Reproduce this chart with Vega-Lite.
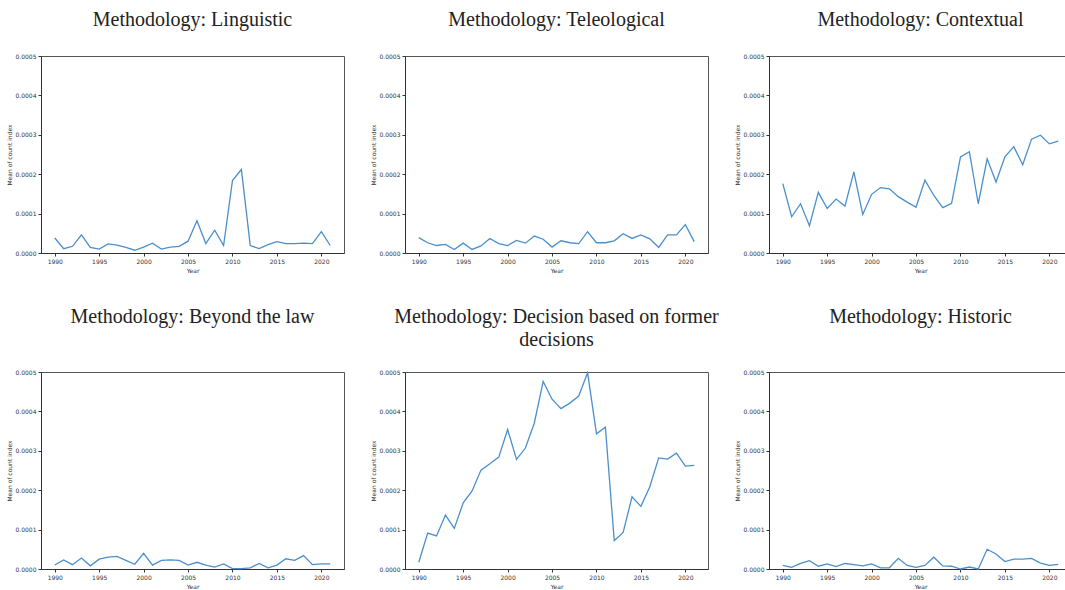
{
  "$schema": "https://vega.github.io/schema/vega-lite/v6.json",
  "background": "white",
  "padding": {"left": 5, "top": 9, "right": 0, "bottom": 0},
  "data": {"values": [
    {"method": "Linguistic", "year": 1990, "value": 0.000038},
    {"method": "Linguistic", "year": 1991, "value": 0.000011},
    {"method": "Linguistic", "year": 1992, "value": 0.000017},
    {"method": "Linguistic", "year": 1993, "value": 0.000046},
    {"method": "Linguistic", "year": 1994, "value": 0.000014},
    {"method": "Linguistic", "year": 1995, "value": 0.000010},
    {"method": "Linguistic", "year": 1996, "value": 0.000023},
    {"method": "Linguistic", "year": 1997, "value": 0.000020},
    {"method": "Linguistic", "year": 1998, "value": 0.000014},
    {"method": "Linguistic", "year": 1999, "value": 0.000007},
    {"method": "Linguistic", "year": 2000, "value": 0.000015},
    {"method": "Linguistic", "year": 2001, "value": 0.000025},
    {"method": "Linguistic", "year": 2002, "value": 0.000010},
    {"method": "Linguistic", "year": 2003, "value": 0.000015},
    {"method": "Linguistic", "year": 2004, "value": 0.000017},
    {"method": "Linguistic", "year": 2005, "value": 0.000030},
    {"method": "Linguistic", "year": 2006, "value": 0.000082},
    {"method": "Linguistic", "year": 2007, "value": 0.000024},
    {"method": "Linguistic", "year": 2008, "value": 0.000058},
    {"method": "Linguistic", "year": 2009, "value": 0.000019},
    {"method": "Linguistic", "year": 2010, "value": 0.000184},
    {"method": "Linguistic", "year": 2011, "value": 0.000212},
    {"method": "Linguistic", "year": 2012, "value": 0.000019},
    {"method": "Linguistic", "year": 2013, "value": 0.000011},
    {"method": "Linguistic", "year": 2014, "value": 0.000021},
    {"method": "Linguistic", "year": 2015, "value": 0.000029},
    {"method": "Linguistic", "year": 2016, "value": 0.000024},
    {"method": "Linguistic", "year": 2017, "value": 0.000024},
    {"method": "Linguistic", "year": 2018, "value": 0.000025},
    {"method": "Linguistic", "year": 2019, "value": 0.000024},
    {"method": "Linguistic", "year": 2020, "value": 0.000054},
    {"method": "Linguistic", "year": 2021, "value": 0.000019},
    {"method": "Teleological", "year": 1990, "value": 0.000039},
    {"method": "Teleological", "year": 1991, "value": 0.000026},
    {"method": "Teleological", "year": 1992, "value": 0.000019},
    {"method": "Teleological", "year": 1993, "value": 0.000022},
    {"method": "Teleological", "year": 1994, "value": 0.000009},
    {"method": "Teleological", "year": 1995, "value": 0.000025},
    {"method": "Teleological", "year": 1996, "value": 0.000009},
    {"method": "Teleological", "year": 1997, "value": 0.000018},
    {"method": "Teleological", "year": 1998, "value": 0.000037},
    {"method": "Teleological", "year": 1999, "value": 0.000024},
    {"method": "Teleological", "year": 2000, "value": 0.000019},
    {"method": "Teleological", "year": 2001, "value": 0.000032},
    {"method": "Teleological", "year": 2002, "value": 0.000025},
    {"method": "Teleological", "year": 2003, "value": 0.000043},
    {"method": "Teleological", "year": 2004, "value": 0.000035},
    {"method": "Teleological", "year": 2005, "value": 0.000015},
    {"method": "Teleological", "year": 2006, "value": 0.000031},
    {"method": "Teleological", "year": 2007, "value": 0.000026},
    {"method": "Teleological", "year": 2008, "value": 0.000024},
    {"method": "Teleological", "year": 2009, "value": 0.000054},
    {"method": "Teleological", "year": 2010, "value": 0.000026},
    {"method": "Teleological", "year": 2011, "value": 0.000026},
    {"method": "Teleological", "year": 2012, "value": 0.000031},
    {"method": "Teleological", "year": 2013, "value": 0.000049},
    {"method": "Teleological", "year": 2014, "value": 0.000037},
    {"method": "Teleological", "year": 2015, "value": 0.000046},
    {"method": "Teleological", "year": 2016, "value": 0.000036},
    {"method": "Teleological", "year": 2017, "value": 0.000014},
    {"method": "Teleological", "year": 2018, "value": 0.000046},
    {"method": "Teleological", "year": 2019, "value": 0.000046},
    {"method": "Teleological", "year": 2020, "value": 0.000072},
    {"method": "Teleological", "year": 2021, "value": 0.000029},
    {"method": "Contextual", "year": 1990, "value": 0.000176},
    {"method": "Contextual", "year": 1991, "value": 0.000092},
    {"method": "Contextual", "year": 1992, "value": 0.000125},
    {"method": "Contextual", "year": 1993, "value": 0.000069},
    {"method": "Contextual", "year": 1994, "value": 0.000154},
    {"method": "Contextual", "year": 1995, "value": 0.000113},
    {"method": "Contextual", "year": 1996, "value": 0.000137},
    {"method": "Contextual", "year": 1997, "value": 0.000119},
    {"method": "Contextual", "year": 1998, "value": 0.000206},
    {"method": "Contextual", "year": 1999, "value": 0.000098},
    {"method": "Contextual", "year": 2000, "value": 0.000149},
    {"method": "Contextual", "year": 2001, "value": 0.000166},
    {"method": "Contextual", "year": 2002, "value": 0.000163},
    {"method": "Contextual", "year": 2003, "value": 0.000143},
    {"method": "Contextual", "year": 2004, "value": 0.000129},
    {"method": "Contextual", "year": 2005, "value": 0.000116},
    {"method": "Contextual", "year": 2006, "value": 0.000185},
    {"method": "Contextual", "year": 2007, "value": 0.000146},
    {"method": "Contextual", "year": 2008, "value": 0.000115},
    {"method": "Contextual", "year": 2009, "value": 0.000126},
    {"method": "Contextual", "year": 2010, "value": 0.000244},
    {"method": "Contextual", "year": 2011, "value": 0.000257},
    {"method": "Contextual", "year": 2012, "value": 0.000125},
    {"method": "Contextual", "year": 2013, "value": 0.000239},
    {"method": "Contextual", "year": 2014, "value": 0.000180},
    {"method": "Contextual", "year": 2015, "value": 0.000244},
    {"method": "Contextual", "year": 2016, "value": 0.000270},
    {"method": "Contextual", "year": 2017, "value": 0.000224},
    {"method": "Contextual", "year": 2018, "value": 0.000289},
    {"method": "Contextual", "year": 2019, "value": 0.000299},
    {"method": "Contextual", "year": 2020, "value": 0.000277},
    {"method": "Contextual", "year": 2021, "value": 0.000284},
    {"method": "Beyond", "year": 1990, "value": 0.000010},
    {"method": "Beyond", "year": 1991, "value": 0.000023},
    {"method": "Beyond", "year": 1992, "value": 0.000011},
    {"method": "Beyond", "year": 1993, "value": 0.000028},
    {"method": "Beyond", "year": 1994, "value": 0.000008},
    {"method": "Beyond", "year": 1995, "value": 0.000025},
    {"method": "Beyond", "year": 1996, "value": 0.000030},
    {"method": "Beyond", "year": 1997, "value": 0.000032},
    {"method": "Beyond", "year": 1998, "value": 0.000022},
    {"method": "Beyond", "year": 1999, "value": 0.000012},
    {"method": "Beyond", "year": 2000, "value": 0.000040},
    {"method": "Beyond", "year": 2001, "value": 0.000010},
    {"method": "Beyond", "year": 2002, "value": 0.000022},
    {"method": "Beyond", "year": 2003, "value": 0.000023},
    {"method": "Beyond", "year": 2004, "value": 0.000022},
    {"method": "Beyond", "year": 2005, "value": 0.000010},
    {"method": "Beyond", "year": 2006, "value": 0.000017},
    {"method": "Beyond", "year": 2007, "value": 0.000010},
    {"method": "Beyond", "year": 2008, "value": 0.000005},
    {"method": "Beyond", "year": 2009, "value": 0.000013},
    {"method": "Beyond", "year": 2010, "value": 0.000001},
    {"method": "Beyond", "year": 2011, "value": 0.000001},
    {"method": "Beyond", "year": 2012, "value": 0.000003},
    {"method": "Beyond", "year": 2013, "value": 0.000014},
    {"method": "Beyond", "year": 2014, "value": 0.000003},
    {"method": "Beyond", "year": 2015, "value": 0.000010},
    {"method": "Beyond", "year": 2016, "value": 0.000026},
    {"method": "Beyond", "year": 2017, "value": 0.000022},
    {"method": "Beyond", "year": 2018, "value": 0.000034},
    {"method": "Beyond", "year": 2019, "value": 0.000011},
    {"method": "Beyond", "year": 2020, "value": 0.000013},
    {"method": "Beyond", "year": 2021, "value": 0.000013},
    {"method": "Decision", "year": 1990, "value": 0.000017},
    {"method": "Decision", "year": 1991, "value": 0.000091},
    {"method": "Decision", "year": 1992, "value": 0.000084},
    {"method": "Decision", "year": 1993, "value": 0.000137},
    {"method": "Decision", "year": 1994, "value": 0.000103},
    {"method": "Decision", "year": 1995, "value": 0.000168},
    {"method": "Decision", "year": 1996, "value": 0.000198},
    {"method": "Decision", "year": 1997, "value": 0.000251},
    {"method": "Decision", "year": 1998, "value": 0.000267},
    {"method": "Decision", "year": 1999, "value": 0.000284},
    {"method": "Decision", "year": 2000, "value": 0.000354},
    {"method": "Decision", "year": 2001, "value": 0.000278},
    {"method": "Decision", "year": 2002, "value": 0.000307},
    {"method": "Decision", "year": 2003, "value": 0.000370},
    {"method": "Decision", "year": 2004, "value": 0.000476},
    {"method": "Decision", "year": 2005, "value": 0.000431},
    {"method": "Decision", "year": 2006, "value": 0.000407},
    {"method": "Decision", "year": 2007, "value": 0.000421},
    {"method": "Decision", "year": 2008, "value": 0.000439},
    {"method": "Decision", "year": 2009, "value": 0.000498},
    {"method": "Decision", "year": 2010, "value": 0.000343},
    {"method": "Decision", "year": 2011, "value": 0.000360},
    {"method": "Decision", "year": 2012, "value": 0.000072},
    {"method": "Decision", "year": 2013, "value": 0.000093},
    {"method": "Decision", "year": 2014, "value": 0.000183},
    {"method": "Decision", "year": 2015, "value": 0.000159},
    {"method": "Decision", "year": 2016, "value": 0.000209},
    {"method": "Decision", "year": 2017, "value": 0.000282},
    {"method": "Decision", "year": 2018, "value": 0.000279},
    {"method": "Decision", "year": 2019, "value": 0.000294},
    {"method": "Decision", "year": 2020, "value": 0.000261},
    {"method": "Decision", "year": 2021, "value": 0.000263},
    {"method": "Historic", "year": 1990, "value": 0.000009},
    {"method": "Historic", "year": 1991, "value": 0.000004},
    {"method": "Historic", "year": 1992, "value": 0.000014},
    {"method": "Historic", "year": 1993, "value": 0.000021},
    {"method": "Historic", "year": 1994, "value": 0.000007},
    {"method": "Historic", "year": 1995, "value": 0.000013},
    {"method": "Historic", "year": 1996, "value": 0.000006},
    {"method": "Historic", "year": 1997, "value": 0.000014},
    {"method": "Historic", "year": 1998, "value": 0.000011},
    {"method": "Historic", "year": 1999, "value": 0.000008},
    {"method": "Historic", "year": 2000, "value": 0.000013},
    {"method": "Historic", "year": 2001, "value": 0.000003},
    {"method": "Historic", "year": 2002, "value": 0.000003},
    {"method": "Historic", "year": 2003, "value": 0.000027},
    {"method": "Historic", "year": 2004, "value": 0.000009},
    {"method": "Historic", "year": 2005, "value": 0.000004},
    {"method": "Historic", "year": 2006, "value": 0.000009},
    {"method": "Historic", "year": 2007, "value": 0.000030},
    {"method": "Historic", "year": 2008, "value": 0.000008},
    {"method": "Historic", "year": 2009, "value": 0.000007},
    {"method": "Historic", "year": 2010, "value": 0.000000},
    {"method": "Historic", "year": 2011, "value": 0.000005},
    {"method": "Historic", "year": 2012, "value": 0.000000},
    {"method": "Historic", "year": 2013, "value": 0.000050},
    {"method": "Historic", "year": 2014, "value": 0.000038},
    {"method": "Historic", "year": 2015, "value": 0.000019},
    {"method": "Historic", "year": 2016, "value": 0.000025},
    {"method": "Historic", "year": 2017, "value": 0.000025},
    {"method": "Historic", "year": 2018, "value": 0.000027},
    {"method": "Historic", "year": 2019, "value": 0.000015},
    {"method": "Historic", "year": 2020, "value": 0.000009},
    {"method": "Historic", "year": 2021, "value": 0.000012}
  ]},
  "columns": 3,
  "bounds": "flush",
  "spacing": {"row": 119, "column": 61},
  "concat": [
    {
      "title": {"text": "Methodology: Linguistic", "offset": 23},
      "width": 303, "height": 197,
      "transform": [{"filter": "datum.method === 'Linguistic'"}],
      "mark": {"type": "line", "color": "#4a8fcc", "strokeWidth": 1.3},
      "encoding": {
        "x": {"field": "year", "type": "quantitative", "scale": {"domain": [1988.45, 2022.55], "nice": false, "zero": false}, "axis": {"values": [1990, 1995, 2000, 2005, 2010, 2015, 2020], "format": "d", "title": "Year"}},
        "y": {"field": "value", "type": "quantitative", "scale": {"domain": [0, 0.0005], "nice": false}, "axis": {"values": [0, 0.0001, 0.0002, 0.0003, 0.0004, 0.0005], "format": ".4f", "title": "Mean of count index"}}
      }
    },
    {
      "title": {"text": "Methodology: Teleological", "offset": 23},
      "width": 303, "height": 197,
      "transform": [{"filter": "datum.method === 'Teleological'"}],
      "mark": {"type": "line", "color": "#4a8fcc", "strokeWidth": 1.3},
      "encoding": {
        "x": {"field": "year", "type": "quantitative", "scale": {"domain": [1988.45, 2022.55], "nice": false, "zero": false}, "axis": {"values": [1990, 1995, 2000, 2005, 2010, 2015, 2020], "format": "d", "title": "Year"}},
        "y": {"field": "value", "type": "quantitative", "scale": {"domain": [0, 0.0005], "nice": false}, "axis": {"values": [0, 0.0001, 0.0002, 0.0003, 0.0004, 0.0005], "format": ".4f", "title": "Mean of count index"}}
      }
    },
    {
      "title": {"text": "Methodology: Contextual", "offset": 23},
      "width": 303, "height": 197,
      "transform": [{"filter": "datum.method === 'Contextual'"}],
      "mark": {"type": "line", "color": "#4a8fcc", "strokeWidth": 1.3},
      "encoding": {
        "x": {"field": "year", "type": "quantitative", "scale": {"domain": [1988.45, 2022.55], "nice": false, "zero": false}, "axis": {"values": [1990, 1995, 2000, 2005, 2010, 2015, 2020], "format": "d", "title": "Year"}},
        "y": {"field": "value", "type": "quantitative", "scale": {"domain": [0, 0.0005], "nice": false}, "axis": {"values": [0, 0.0001, 0.0002, 0.0003, 0.0004, 0.0005], "format": ".4f", "title": "Mean of count index"}}
      }
    },
    {
      "title": {"text": "Methodology: Beyond the law", "offset": 42},
      "width": 303, "height": 197,
      "transform": [{"filter": "datum.method === 'Beyond'"}],
      "mark": {"type": "line", "color": "#4a8fcc", "strokeWidth": 1.3},
      "encoding": {
        "x": {"field": "year", "type": "quantitative", "scale": {"domain": [1988.45, 2022.55], "nice": false, "zero": false}, "axis": {"values": [1990, 1995, 2000, 2005, 2010, 2015, 2020], "format": "d", "title": "Year"}},
        "y": {"field": "value", "type": "quantitative", "scale": {"domain": [0, 0.0005], "nice": false}, "axis": {"values": [0, 0.0001, 0.0002, 0.0003, 0.0004, 0.0005], "format": ".4f", "title": "Mean of count index"}}
      }
    },
    {
      "title": {"text": ["Methodology: Decision based on former", "decisions"], "offset": 19, "lineHeight": 23},
      "width": 303, "height": 197,
      "transform": [{"filter": "datum.method === 'Decision'"}],
      "mark": {"type": "line", "color": "#4a8fcc", "strokeWidth": 1.3},
      "encoding": {
        "x": {"field": "year", "type": "quantitative", "scale": {"domain": [1988.45, 2022.55], "nice": false, "zero": false}, "axis": {"values": [1990, 1995, 2000, 2005, 2010, 2015, 2020], "format": "d", "title": "Year"}},
        "y": {"field": "value", "type": "quantitative", "scale": {"domain": [0, 0.0005], "nice": false}, "axis": {"values": [0, 0.0001, 0.0002, 0.0003, 0.0004, 0.0005], "format": ".4f", "title": "Mean of count index"}}
      }
    },
    {
      "title": {"text": "Methodology: Historic", "offset": 42},
      "width": 303, "height": 197,
      "transform": [{"filter": "datum.method === 'Historic'"}],
      "mark": {"type": "line", "color": "#4a8fcc", "strokeWidth": 1.3},
      "encoding": {
        "x": {"field": "year", "type": "quantitative", "scale": {"domain": [1988.45, 2022.55], "nice": false, "zero": false}, "axis": {"values": [1990, 1995, 2000, 2005, 2010, 2015, 2020], "format": "d", "title": "Year"}},
        "y": {"field": "value", "type": "quantitative", "scale": {"domain": [0, 0.0005], "nice": false}, "axis": {"values": [0, 0.0001, 0.0002, 0.0003, 0.0004, 0.0005], "format": ".4f", "title": "Mean of count index"}}
      }
    }
  ],
  "config": {
    "view": {"stroke": "#555", "strokeWidth": 1},
    "title": {"font": "Liberation Serif", "fontSize": 20, "fontWeight": "normal", "color": "#222", "anchor": "middle"},
    "axis": {
      "grid": false,
      "labelFont": "DejaVu Sans", "labelFontSize": 6, "labelColor": "#333",
      "titleFont": "DejaVu Sans", "titleFontSize": 6, "titleFontWeight": "normal", "titleColor": "#333",
      "domainColor": "#333", "tickColor": "#333", "tickSize": 3, "labelPadding": 2, "titlePadding": 3
    }
  }
}
